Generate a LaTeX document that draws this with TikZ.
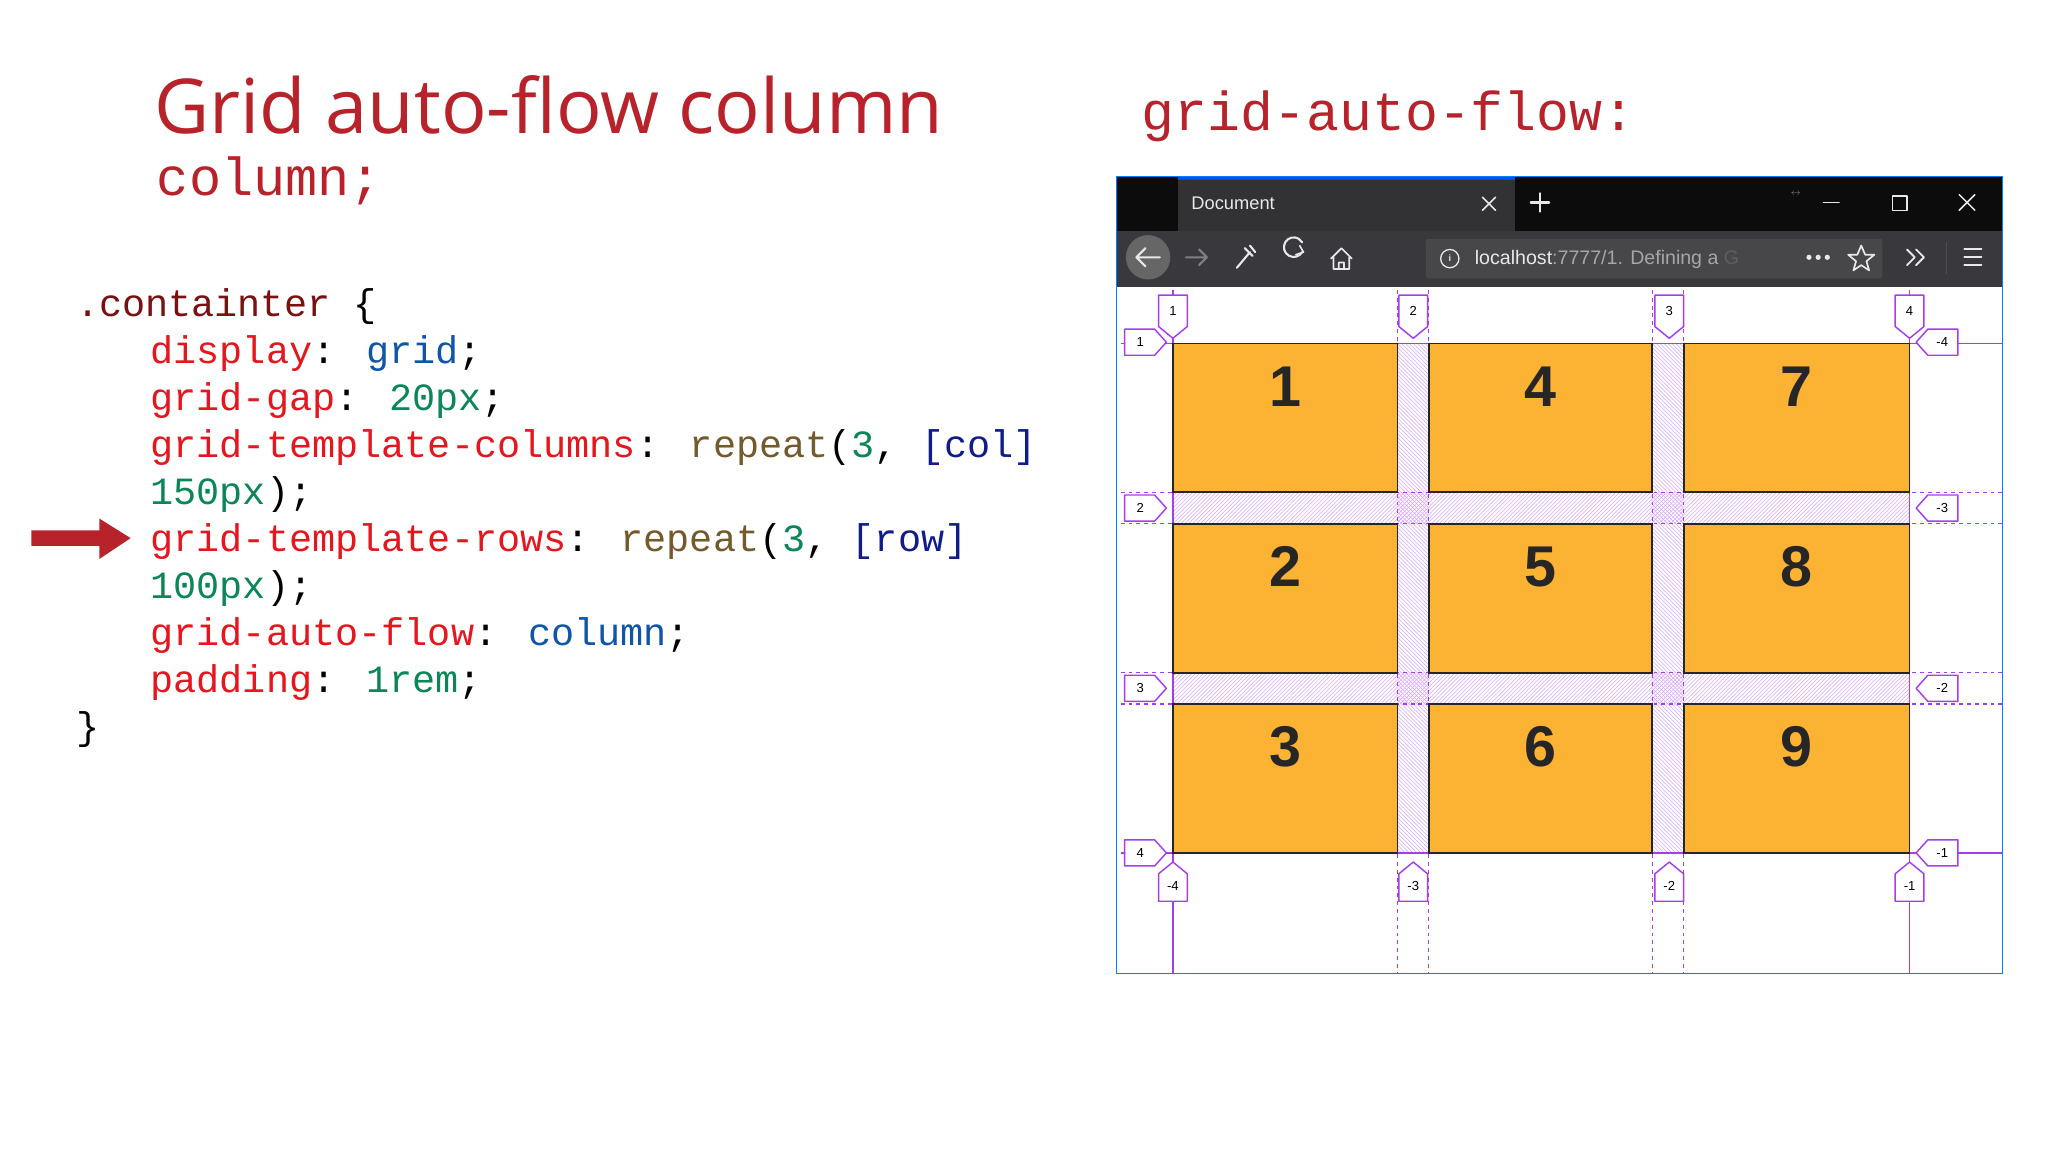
\documentclass[tikz,border=0pt]{standalone}
\usepackage{fontspec}
\setmainfont{Open Sans}
\newfontfamily\mono{Liberation Mono}
\newfontfamily\lsans{Liberation Sans}
\usetikzlibrary{patterns}
\definecolor{ttl}{HTML}{B8232B}
\definecolor{prop}{HTML}{E5161D}
\definecolor{kw}{HTML}{0F55A8}
\definecolor{num}{HTML}{0B8656}
\definecolor{fn}{HTML}{74592A}
\definecolor{br}{HTML}{0F1C8A}
\definecolor{sel}{HTML}{7A1010}
\definecolor{gl}{HTML}{A53CF0}
\definecolor{cell}{HTML}{FCB232}
\definecolor{tbar}{HTML}{0C0C0D}
\definecolor{tab}{HTML}{323234}
\definecolor{tool}{HTML}{38383D}
\definecolor{url}{HTML}{47474A}
\definecolor{icon}{HTML}{E8E8EA}
\newcommand\codeline[3]{\node[code] (#1) at (#2) {#3};}
\newcommand\toplab[3]{\draw[lab] (#2-11,226)--(#2+11,226)--(#2+11,250)--(#2,259)--(#2-11,250)--cycle; \node[labt] (#1) at (#2,238) {#3};}
\newcommand\botlab[3]{\draw[lab] (#2,660)--(#2+11,669)--(#2+11,690)--(#2-11,690)--(#2-11,669)--cycle; \node[labt] (#1) at (#2,678) {#3};}
\newcommand\leftlab[3]{\draw[lab] (861,#2-10)--(884,#2-10)--(893,#2)--(884,#2+10)--(861,#2+10)--cycle; \node[labt] (#1) at (873,#2) {#3};}
\newcommand\rightlab[3]{\draw[lab] (1467,#2)--(1476,#2-10)--(1499,#2-10)--(1499,#2+10)--(1476,#2+10)--cycle; \node[labt] (#1) at (1487,#2) {#3};}
\begin{document}
\begin{tikzpicture}[x=1pt,y=-1pt,
  code/.style={anchor=base west,inner sep=0,font=\mono\fontsize{29.5}{30}\selectfont},
  lab/.style={draw=gl,fill=white,line width=1.1pt,line join=round},
  labt/.style={font=\lsans\fontsize{10}{10}\selectfont,inner sep=0},
  cellb/.style={fill=cell,draw=black!85,line width=1.4pt},
  cnum/.style={font=\lsans\bfseries\fontsize{44}{44}\selectfont,text=black!85,inner sep=0},
  icn/.style={draw=icon,line width=1.6pt,line cap=round,line join=round}]
\useasboundingbox (0,0) rectangle (1568,882);
\fill[white] (0,0) rectangle (1568,882);
% titles
\node[anchor=base west,inner sep=0,text=ttl,font=\fontsize{58}{58}\selectfont] (t1) at (118,102) {Grid auto-flow column};
\node[anchor=base west,inner sep=0,text=ttl,font=\mono\fontsize{41}{41}\selectfont] (t2) at (120,150) {column;};
\node[anchor=base west,inner sep=0,text=ttl,font=\mono\fontsize{42}{42}\selectfont] (t3) at (874,100) {grid-auto-flow:};
% code
\codeline{c0}{58,242}{\color{sel}.containter \color{black}\{}
\codeline{c1}{115,278}{\color{prop}display\color{black}: \color{kw}grid\color{black};}
\codeline{c2}{115,314}{\color{prop}grid-gap\color{black}: \color{num}20px\color{black};}
\codeline{c3}{115,350}{\color{prop}grid-template-columns\color{black}: \color{fn}repeat\color{black}(\color{num}3\color{black}, \color{br}[col]}
\codeline{c4}{115,386}{\color{num}150px\color{black});}
\codeline{c5}{115,422}{\color{prop}grid-template-rows\color{black}: \color{fn}repeat\color{black}(\color{num}3\color{black}, \color{br}[row]}
\codeline{c6}{115,458}{\color{num}100px\color{black});}
\codeline{c7}{115,494}{\color{prop}grid-auto-flow\color{black}: \color{kw}column\color{black};}
\codeline{c8}{115,530}{\color{prop}padding\color{black}: \color{num}1rem\color{black};}
\codeline{c9}{58,566}{\}}
% red arrow
\fill[ttl] (24,406)--(76,406)--(76,397)--(100,412)--(76,428)--(76,418)--(24,418)--cycle;
% browser
\fill[tbar] (855,135) rectangle (1533,177);
\fill[tab] (902,137) rectangle (1160,177);
\fill[blue!70!cyan] (902,135) rectangle (1160,138);
\node[anchor=west,text=icon,font=\lsans\fontsize{14}{14}\selectfont,inner sep=0] (doc) at (912,156) {Document};
\draw[icn,line width=1.2pt] (1135,151)--(1145,161) (1135,161)--(1145,151);
\draw[icn,line width=1.8pt] (1172,155)--(1186,155) (1179,148)--(1179,162);
\node[text=gray,font=\fontsize{7}{7}\selectfont,inner sep=0] (rs) at (1375,148) {$\leftrightarrow$};
\draw[icn,line width=1.1pt] (1396,155)--(1408,155);
\draw[icn,line width=1.1pt,line cap=butt] (1449,150) rectangle (1460,161);
\draw[icn,line width=1.1pt] (1500,149)--(1512,161) (1500,161)--(1512,149);
\fill[tool] (855,177) rectangle (1533,220);
\fill[gray!80!black] (879,197) circle (17);
\draw[icn] (870,197)--(888,197) (877,190)--(870,197)--(877,204);
\draw[icn,draw=gray] (908,197)--(924,197) (918,191)--(924,197)--(918,203);
\draw[icn] (947,205)--(957,193) (953,190)--(959,196) (957,188)--(961,193);
\draw[icn] (997,193) arc (30:330:7.5) ;
\draw[icn,line width=1.2pt] (995,188)--(998,193)--(992,195);
\draw[icn,line width=1.3pt] (1019,198)--(1027,190)--(1035,198) (1021,197)--(1021,206)--(1033,206)--(1033,197) (1025,206)--(1025,201)--(1029,201)--(1029,206);
\draw[fill=url,draw=gray!60!black,rounded corners=2pt] (1092,183) rectangle (1441,213);
\draw[icn,line width=1pt] (1110,198) circle (7);
\node[text=icon,font=\lsans\fontsize{7}{7}\selectfont\bfseries,inner sep=0] (inf) at (1110,198) {i};
\node[anchor=west,inner sep=0,font=\lsans\fontsize{15}{15}\selectfont] (urlt) at (1129,199) {\color{icon}localhost\color{gray!70}:7777/1. Defining a \color{gray!40!url}G};
\foreach \xx in {1385,1392,1399} \fill[icon] (\xx,197) circle (2);
\draw[icn,line width=1.3pt] (1425,188)--(1428,195)--(1435,195)--(1429,200)--(1431,207)--(1425,203)--(1419,207)--(1421,200)--(1415,195)--(1422,195)--cycle;
\draw[icn,line width=1.4pt] (1460,191)--(1466,197)--(1460,203) (1467,191)--(1473,197)--(1467,203);
\draw[gray!60!black] (1490,185)--(1490,210);
\draw[icn,line width=1.5pt] (1504,191)--(1517,191) (1504,197)--(1517,197) (1504,203)--(1517,203);
% content
\draw[blue!50!cyan,line width=0.8pt] (855,135) rectangle (1533,745);
% gaps
\fill[pattern=north west lines,pattern color=gl!45] (1070,263) rectangle (1094,653) (1265,263) rectangle (1289,653);
\fill[pattern=north east lines,pattern color=gl!45] (898,377) rectangle (1462,401) (898,515) rectangle (1462,539);
% grid lines
\draw[gl,dashed,line width=0.8pt] (1070,222)--(1070,745) (1094,222)--(1094,745) (1265,222)--(1265,745) (1289,222)--(1289,745);
\draw[gl,dashed,line width=0.8pt] (858,377)--(1533,377) (858,401)--(1533,401) (858,515)--(1533,515) (858,539)--(1533,539);
\draw[gl,line width=1pt] (898,222)--(898,745) (1462,222)--(1462,745) (858,263)--(1533,263) (858,653)--(1533,653);
% cells
\foreach \cx/\cxe [count=\i from 0] in {898/1070,1094/1265,1289/1462}{
  \foreach \cy/\cye [count=\j from 1] in {263/377,401/515,539/653}{
    \pgfmathtruncatemacro\n{\i*3+\j}
    \draw[cellb] (\cx,\cy) rectangle (\cxe,\cye);
    \node[cnum] (n\n) at ({(\cx+\cxe)/2},\cy+33) {\n};
  }}
% labels
\toplab{tl1}{898}{1}\toplab{tl2}{1082}{2}\toplab{tl3}{1278}{3}\toplab{tl4}{1462}{4}
\botlab{bl1}{898}{-4}\botlab{bl2}{1082}{-3}\botlab{bl3}{1278}{-2}\botlab{bl4}{1462}{-1}
\leftlab{ll1}{262}{1}\leftlab{ll2}{389}{2}\leftlab{ll3}{527}{3}\leftlab{ll4}{653}{4}
\rightlab{rl1}{262}{-4}\rightlab{rl2}{389}{-3}\rightlab{rl3}{527}{-2}\rightlab{rl4}{653}{-1}
\end{tikzpicture}
\end{document}
